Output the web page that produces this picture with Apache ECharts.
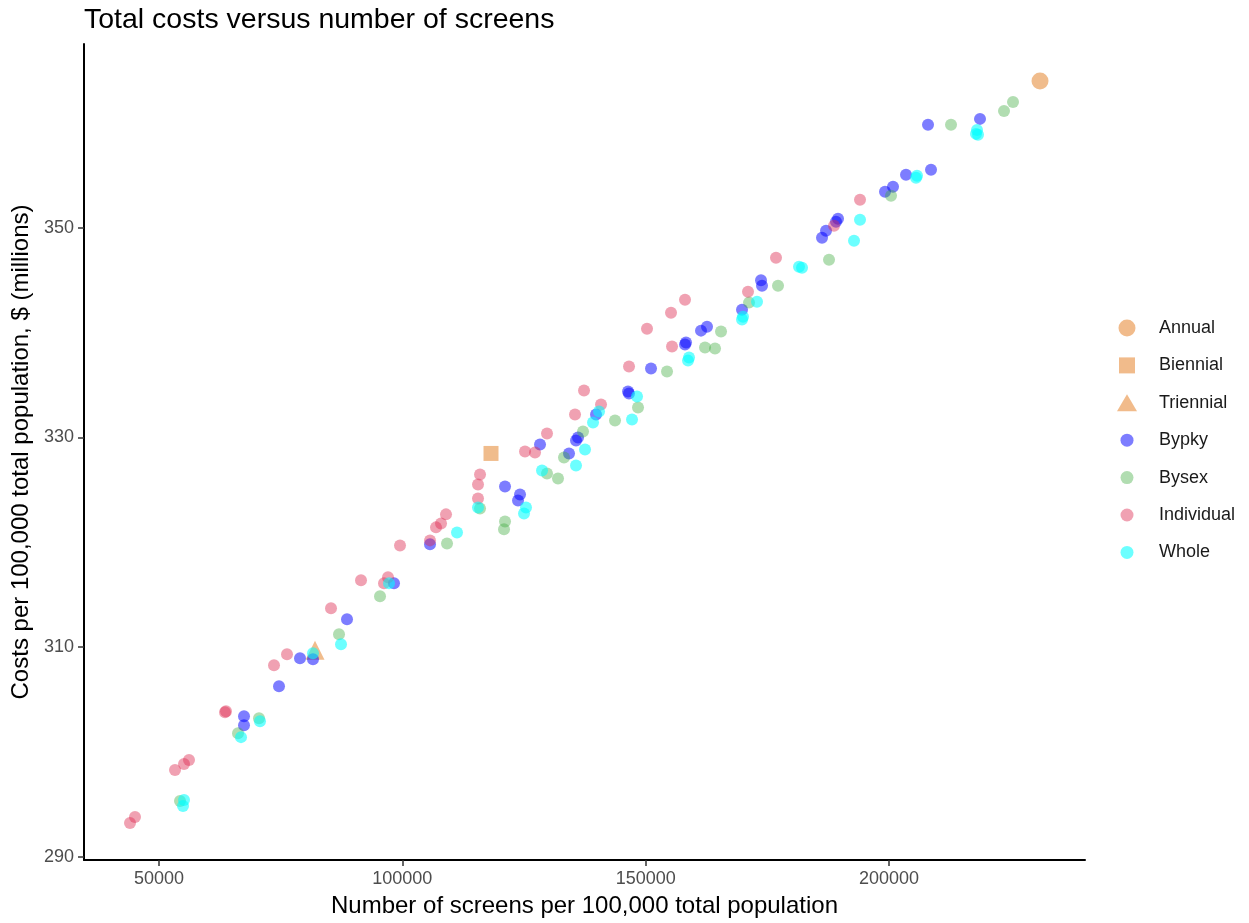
<!DOCTYPE html>
<html><head><meta charset="utf-8">
<script src="https://cdn.jsdelivr.net/npm/echarts@6/dist/echarts.min.js"></script>
<style>html,body{margin:0;padding:0;background:#fff}#c{width:1249px;height:923px}</style>
</head><body><div id="c"></div>
<script>
const chartTitle = 'Total costs versus number of screens';
const xTitle = 'Number of screens per 100,000 total population';
const yTitle = 'Costs per 100,000 total population, $ (millions)';
const xTicks = [50000, 100000, 150000, 200000];
const yTicks = [290, 310, 330, 350];
const legendNames = ['Annual', 'Biennial', 'Triennial', 'Bypky', 'Bysex', 'Individual', 'Whole'];

const annual = [[231019, 364.0]];
const biennial = [[118216, 328.48]];
const triennial = [[82053, 309.71]];

const bypky = [[67465,303.43],[67465,302.57],[74656,306.29],[78971,308.95],[81642,308.86],[88629,312.67],[98285,316.10],[105682,319.81],[121093,325.33],[123764,324.0],[124175,324.57],[128284,329.33],[134243,328.48],[135681,329.71],[136092,330.0],[139790,332.19],[146366,334.38],[146571,334.19],[151091,336.57],[158077,338.86],[158282,339.05],[161364,340.19],[162598,340.57],[169789,342.19],[173693,345.0],[173898,344.48],[186226,349.05],[187048,349.71],[189103,350.57],[189514,350.86],[199172,353.43],[200815,353.90],[203486,355.05],[208006,359.81],[208623,355.52],[218691,360.38]];

const bysex = [[54315,295.33],[66232,301.81],[70547,303.24],[86985,311.24],[95409,314.86],[109176,319.90],[120887,321.24],[121093,322.0],[115956,323.24],[129722,326.57],[131982,326.10],[133215,328.10],[137119,330.57],[143694,331.62],[148420,332.86],[154379,336.29],[162186,338.57],[164241,338.48],[165474,340.10],[171227,342.86],[177186,344.48],[187665,346.95],[200404,353.05],[212732,359.81],[223622,361.14],[225472,362.0]];

const individual = [[44041,293.24],[45069,293.81],[53288,298.29],[55137,298.86],[56164,299.24],[63561,303.81],[63766,303.90],[73629,308.29],[76300,309.33],[85341,313.71],[91505,316.38],[96231,316.10],[97053,316.67],[99518,319.71],[105682,320.19],[106915,321.43],[107943,321.81],[108970,322.67],[115545,324.19],[115545,325.52],[115956,326.48],[125202,328.67],[127257,328.57],[129722,330.38],[135476,332.19],[137325,334.48],[140818,333.14],[146571,336.76],[150269,340.38],[155406,338.67],[155201,341.90],[158077,343.14],[171022,343.90],[176775,347.14],[188692,350.19],[194035,352.67]];

const whole = [[54931,294.86],[55137,295.43],[66849,301.43],[70752,302.95],[81642,309.43],[87396,310.29],[97258,316.10],[111230,320.95],[115545,323.33],[124997,322.76],[125407,323.33],[128695,326.86],[135681,327.33],[137530,328.86],[139174,331.43],[140407,332.48],[147187,331.71],[148215,333.90],[158693,337.33],[158899,337.62],[169789,341.24],[169994,341.52],[172871,342.95],[181501,346.29],[182117,346.19],[192802,348.76],[194035,350.76],[205541,354.76],[205746,354.95],[217869,358.95],[218074,359.33],[218280,358.86]];

const FONT = '"Liberation Sans", Arial, sans-serif';
const orange = 'rgba(232,150,75,0.8)';
const orangeLegend = '#EDAA6E';
const colBlue = 'rgba(0,0,255,0.64)';
const colGreen = 'rgba(60,170,60,0.5)';
const colPink = 'rgba(220,40,80,0.55)';
const colCyan = 'rgba(0,255,255,0.72)';

function sc(name, data, symbol, size, color) {
  return { name, type: 'scatter', data, symbol, symbolSize: size,
    itemStyle: { color, borderWidth: 0 }, emphasis: { disabled: true }, animation: false };
}

// legend entries: one small legend component per entry, so each icon keeps its own size
const legIcons = ['circle', 'rect', 'triangle', 'circle', 'circle', 'circle', 'circle'];
const legW = [17, 16, 20, 13, 13, 13, 13];
const legH = [17, 16, 17, 13, 13, 13, 13];
const legColors = [orangeLegend, orangeLegend, orangeLegend, null, null, null, null];
const LEG_CX = 1127, LEG_TEXT_X = 1159, LEG_Y0 = 328, LEG_STEP = 37.4, TEXT_H = 18;
const legends = legendNames.map((n, i) => {
  const left = LEG_CX - legW[i] / 2;
  const item = { name: n, icon: legIcons[i] };
  if (legColors[i]) item.itemStyle = { color: legColors[i] };
  return {
    orient: 'vertical', padding: 0, selectedMode: false,
    left: left, top: LEG_Y0 + i * LEG_STEP - TEXT_H / 2,
    itemWidth: legW[i], itemHeight: legH[i],
    textStyle: { fontFamily: FONT, fontSize: 18, color: '#1a1a1a', lineHeight: TEXT_H,
      padding: [0, 0, 0, LEG_TEXT_X - (left + legW[i] + 5)] },
    data: [item]
  };
});

const chart = echarts.init(document.getElementById('c'), null, { renderer: 'canvas' });
chart.setOption({
  backgroundColor: '#ffffff',
  animation: false,
  title: { text: chartTitle, left: 79, top: 1,
    textStyle: { fontFamily: FONT, fontSize: 28.5, fontWeight: 'normal', color: '#000' } },
  grid: { left: 84, right: 164, top: 44, bottom: 62, containLabel: false },
  legend: legends,
  xAxis: {
    type: 'value', min: 34590, max: 240261,
    name: xTitle, nameLocation: 'middle', nameGap: 34,
    nameTextStyle: { fontFamily: FONT, fontSize: 24, color: '#000' },
    axisLine: { show: true, onZero: false, lineStyle: { color: '#000', width: 2 } },
    axisTick: { show: true, length: 6, customValues: xTicks, lineStyle: { color: '#333', width: 1.5 } },
    axisLabel: { customValues: xTicks, fontFamily: FONT, fontSize: 18, color: '#4D4D4D', margin: 10,
      formatter: v => String(v) },
    splitLine: { show: false }
  },
  yAxis: {
    type: 'value', min: 289.714, max: 367.52,
    name: yTitle, nameLocation: 'middle', nameGap: 50, nameRotate: 90,
    nameTextStyle: { fontFamily: FONT, fontSize: 24, color: '#000' },
    axisLine: { show: true, onZero: false, lineStyle: { color: '#000', width: 2 } },
    axisTick: { show: true, length: 6, customValues: yTicks, lineStyle: { color: '#333', width: 1.5 } },
    axisLabel: { customValues: yTicks, fontFamily: FONT, fontSize: 18, color: '#4D4D4D', margin: 10 },
    splitLine: { show: false }
  },
  series: [
    sc('Annual', annual, 'circle', 17, orange),
    sc('Biennial', biennial, 'rect', 15, orange),
    sc('Triennial', triennial, 'triangle', 19, orange),
    sc('Bypky', bypky, 'circle', 12, colBlue),
    sc('Bysex', bysex, 'circle', 12, colGreen),
    sc('Individual', individual, 'circle', 12, colPink),
    sc('Whole', whole, 'circle', 12, colCyan)
  ]
});
</script></body></html>
